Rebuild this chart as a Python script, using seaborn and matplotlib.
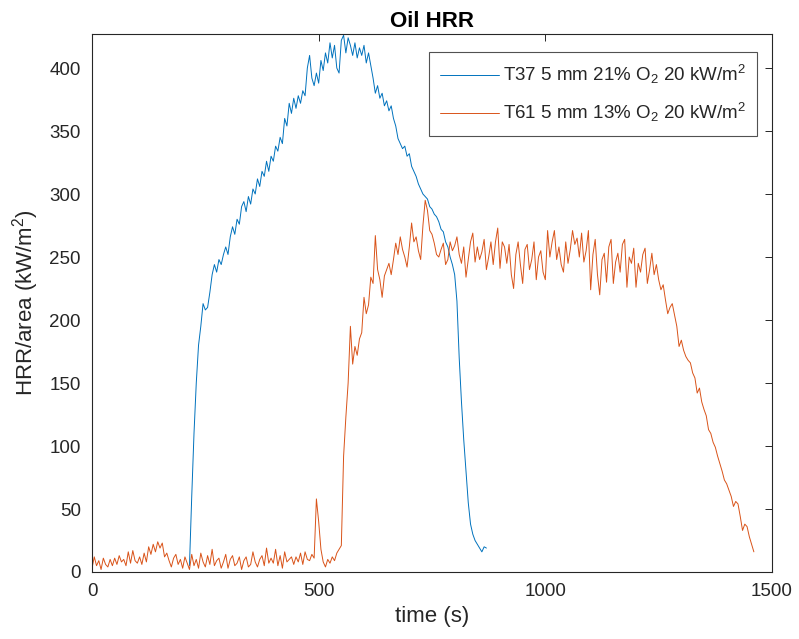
import numpy as np
import pandas as pd
import matplotlib
matplotlib.use("Agg")
import matplotlib.pyplot as plt
import seaborn as sns

# ---------------- data ----------------
# T37 (blue), sampled every 5 s from 215 s to 870 s
t37_time = np.arange(215, 871, 5)
t37_hrr = [
    5, 60, 110, 150, 180, 195, 213, 208, 210, 222,          # 215-260
    236, 244, 238, 248, 244, 252, 258, 252, 266, 274,        # 265-310
    268, 280, 276, 290, 294, 286, 298, 292, 304, 300,        # 315-360
    312, 306, 318, 314, 326, 318, 330, 326, 338, 334,        # 365-410
    345, 340, 360, 354, 372, 364, 376, 368, 378, 372,        # 415-460
    382, 378, 400, 410, 392, 386, 396, 388, 406, 398,        # 465-510
    412, 404, 420, 408, 418, 400, 396, 422, 426, 412,        # 515-560
    424, 418, 410, 420, 408, 416, 410, 418, 404, 412,        # 565-610
    402, 392, 380, 386, 376, 380, 370, 374, 366, 370,        # 615-660
    360, 354, 344, 340, 336, 338, 330, 332, 322, 318,        # 665-710
    314, 308, 304, 300, 298, 296, 290, 288, 284, 282,        # 715-760
    278, 272, 270, 262, 258, 250, 244, 236, 215, 170,        # 765-810
    135, 105, 80, 55, 38, 30, 25, 22, 19, 16,                # 815-860
    20, 19,                                                  # 865-870
]

# T61 (orange), sampled every 5 s from 0 s to 1460 s
t61_time = np.arange(0, 1461, 5)
t61_hrr = [
    3, 12, 5, 9, 2, 11, 6, 4, 10, 5,                          # 0
    11, 6, 13, 8, 10, 5, 16, 7, 17, 9,                        # 50
    7, 12, 6, 15, 8, 20, 14, 22, 16, 24,                      # 100
    19, 23, 12, 15, 9, 4, 11, 14, 6, 10,                      # 150
    3, 12, 7, 2, 14, 5, 10, 3, 15, 8,                         # 200
    4, 13, 6, 18, 5, 9, 11, 3, 8, 14,                         # 250
    3, 10, 13, 5, 7, 12, 2, 9, 12, 4,                         # 300
    6, 16, 8, 4, 10, 13, 5, 19, 7, 11,                        # 350
    7, 18, 5, 13, 3, 16, 8, 10, 12, 6,                        # 400
    12, 8, 15, 6, 16, 10, 9, 14, 11, 58,                      # 450
    40, 18, 8, 4, 10, 7, 12, 9, 15, 18,                       # 500
    21, 92, 123, 150, 195, 165, 179, 172, 185, 190,           # 550
    218, 205, 212, 234, 229, 267, 240, 232, 218, 235,         # 600
    240, 245, 236, 248, 261, 252, 266, 256, 250, 242,         # 650
    258, 277, 262, 266, 255, 248, 275, 295, 287, 271,         # 700
    268, 261, 252, 250, 256, 261, 244, 248, 262, 255,         # 750
    259, 266, 252, 245, 258, 234, 248, 262, 269, 246,         # 800
    258, 248, 254, 264, 240, 250, 262, 244, 262, 273,         # 850
    241, 262, 258, 245, 260, 236, 225, 252, 262, 244,         # 900
    229, 256, 260, 240, 248, 262, 232, 250, 255, 238,         # 950
    232, 271, 250, 262, 271, 248, 258, 244, 238, 262,         # 1000
    245, 256, 271, 260, 265, 250, 269, 246, 255, 271,         # 1050
    224, 252, 264, 236, 220, 248, 253, 230, 258, 264,         # 1100
    229, 246, 253, 238, 260, 264, 226, 250, 245, 257,         # 1150
    226, 245, 238, 252, 257, 229, 240, 253, 236, 244,         # 1200
    232, 224, 228, 216, 205, 210, 213, 204, 195, 179,         # 1250
    184, 176, 171, 168, 166, 158, 154, 142, 146, 135,         # 1300
    129, 124, 113, 110, 103, 99, 92, 86, 80, 73,              # 1350
    70, 65, 60, 52, 56, 54, 44, 33, 38, 36,                   # 1400
    28, 22, 16,                                               # 1450
]

labels = ["T37 5 mm 21% O$_2$ 20 kW/m$^2$", "T61 5 mm 13% O$_2$ 20 kW/m$^2$"]
colors = ["#0072BD", "#D95319"]

x_ticks = [0, 500, 1000, 1500]
y_ticks = [0, 50, 100, 150, 200, 250, 300, 350, 400]

# ---------------- style ----------------
sns.set_theme(style="white")
plt.rcParams["font.family"] = ["Liberation Sans", "DejaVu Sans"]
plt.rcParams["mathtext.fontset"] = "custom"
plt.rcParams["mathtext.rm"] = "Liberation Sans"
plt.rcParams["mathtext.it"] = "Liberation Sans:italic"
plt.rcParams["mathtext.bf"] = "Liberation Sans:bold"

df37 = pd.DataFrame({"time": t37_time, "hrr": t37_hrr})
df61 = pd.DataFrame({"time": t61_time, "hrr": t61_hrr})

fig = plt.figure(figsize=(7.99, 6.39), dpi=100)
ax = fig.add_axes([92 / 799, 1 - 572 / 639, (772 - 92) / 799, (572 - 34) / 639])

sns.lineplot(data=df37, x="time", y="hrr", ax=ax, color=colors[0],
             linewidth=0.7, label=labels[0])
sns.lineplot(data=df61, x="time", y="hrr", ax=ax, color=colors[1],
             linewidth=0.7, label=labels[1])

ax.set_xlim(0, 1500)
ax.set_ylim(0, 427)
ax.set_xticks(x_ticks)
ax.set_yticks(y_ticks)
ax.tick_params(direction="in", length=5, width=0.7, top=True, right=True,
               labelsize=13.5, colors="#262626", pad=8)
for s in ax.spines.values():
    s.set_color("#262626")
    s.set_linewidth(0.8)

ax.set_xlabel("time (s)", fontsize=16, color="#262626", labelpad=4)
ax.set_ylabel("HRR/area (kW/m$^2$)", fontsize=16, color="#262626", labelpad=6)
ax.set_title("Oil HRR", fontsize=16, fontweight="bold", color="black", pad=5)

leg = ax.legend(loc="upper right", bbox_to_anchor=(757 / 799, 1 - 52 / 639),
                bbox_transform=fig.transFigure, borderaxespad=0,
                fontsize=13.5, frameon=True, fancybox=False,
                handlelength=3.15, handletextpad=0.2, borderpad=0.6,
                labelspacing=0.8)
leg.get_frame().set_edgecolor("#262626")
leg.get_frame().set_linewidth(0.8)
for line in leg.get_lines():
    line.set_linewidth(0.7)

fig.savefig("out.png", dpi=100)
